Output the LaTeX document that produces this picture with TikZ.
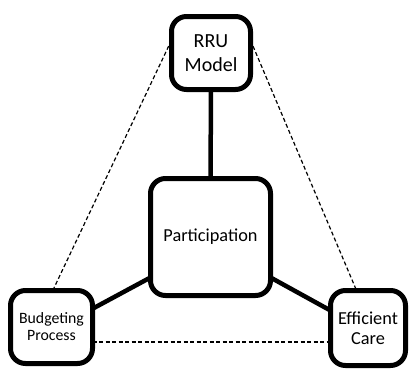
\documentclass[tikz,border=0pt]{standalone}
\usepackage{fontspec}
\setmainfont{Carlito}
\usetikzlibrary{backgrounds}
\begin{document}
\begin{tikzpicture}[x=1pt,y=-1pt,
  box/.style={draw=black,line width=5pt,rounded corners=15pt,fill=white,outer sep=0pt,inner sep=1pt,align=center},
  solidcon/.style={line width=4.5pt},
  dashcon/.style={line width=1.2pt,dash pattern=on 4pt off 2.5pt}]
\useasboundingbox (0,0) rectangle (409,370);
\node[box,minimum width=79pt,minimum height=73pt,font=\fontsize{20}{23.5}\selectfont] (rru) at (211,53) {RRU\\Model};
\node[box,minimum width=120pt,minimum height=117pt,font=\fontsize{18.3}{22}\selectfont] (part) at (210.5,237) {Participation};
\node[box,minimum width=82pt,minimum height=73pt,font=\fontsize{15.8}{17}\selectfont] (bud) at (51.5,327) {Budgeting\\Process};
\node[box,minimum width=75pt,minimum height=75pt,font=\fontsize{18.3}{20}\selectfont] (eff) at (368,328) {Efficient\\Care};
\coordinate (h) at (0,342);
\begin{scope}[on background layer]
\draw[dashcon] (rru.162) -- (bud.88);
\draw[dashcon] (rru.18) -- (eff.107);
\draw[dashcon] (bud.east |- h) -- (eff.west |- h);
\draw[solidcon] (rru.south) -- (part.north);
\draw[solidcon] (part.214.5) -- (bud.24.7);
\draw[solidcon] (part.-34.5) -- (eff.155.8);
\end{scope}
\end{tikzpicture}
\end{document}
